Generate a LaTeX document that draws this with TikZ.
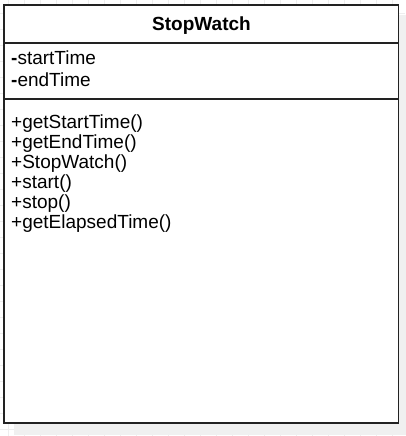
\documentclass[tikz,border=0pt]{standalone}
\usepackage{fontspec}
\setmainfont{Liberation Sans}
\definecolor{gridc}{HTML}{EEEEEE}
\definecolor{shadowc}{HTML}{F0F0F0}
\definecolor{borderc}{HTML}{222222}
\begin{document}
\begin{tikzpicture}[x=1pt,y=-1pt,
  member/.style={anchor=base west,inner sep=0pt,font=\fontsize{19}{20}\selectfont},
  title/.style={anchor=base,inner sep=0pt,font=\fontsize{19}{20}\selectfont\bfseries},
  border/.style={draw=borderc,line width=1.8pt}]
\useasboundingbox (0,0) rectangle (405,436);
\fill[white] (0,0) rectangle (405,436);
% grid
\foreach \gx in {8,24,...,405} \draw[gridc,line width=0.8pt] (\gx,0) -- (\gx,436);
\foreach \gy in {13,29,...,436} \draw[gridc,line width=0.8pt] (0,\gy) -- (405,\gy);
% shadow
\fill[shadowc] (14,15) rectangle (406,435);
% class box
\fill[white] (4,5) rectangle (398.5,423);
\draw[border] (4,5) rectangle (398.5,423);
\coordinate (s1l) at (4,42.7);
\coordinate (s1r) at (398.5,42.7);
\coordinate (s2l) at (4,99);
\coordinate (s2r) at (398.5,99);
\draw[border] (s1l) -- (s1r);
\draw[border] (s2l) -- (s2r);
% texts
\node[title] (t) at (201.5,30.7) {StopWatch};
\node[member] (a1) at (11,64.5) {\textbf{-}startTime};
\node[member] (a2) at (11,86) {\textbf{-}endTime};
\node[member] (m1) at (11,128.3) {+getStartTime()};
\node[member] (m2) at (11,148.3) {+getEndTime()};
\node[member] (m3) at (11,168.3) {+StopWatch()};
\node[member] (m4) at (11,188.3) {+start()};
\node[member] (m5) at (11,208.3) {+stop()};
\node[member] (m6) at (11,228.3) {+getElapsedTime()};
\end{tikzpicture}
\end{document}
